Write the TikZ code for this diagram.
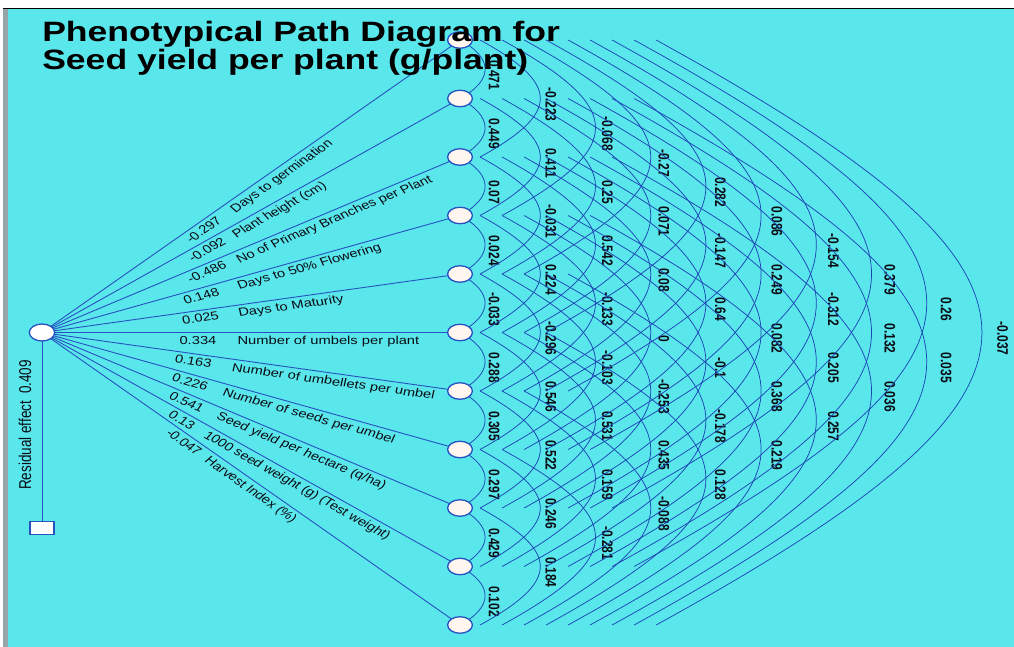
\documentclass[tikz,border=0pt]{standalone}
\usepackage{fontspec}
\setmainfont{Liberation Sans}
\usetikzlibrary{shapes.geometric,calc}
\pgfdeclarelayer{bg}
\pgfdeclarelayer{edges}
\pgfsetlayers{bg,edges,main}
\definecolor{bgcyan}{RGB}{90,231,236}
\definecolor{framegray}{RGB}{150,165,170}
\definecolor{linkblue}{RGB}{38,82,192}
\definecolor{arcblue}{RGB}{28,70,182}
\definecolor{nodefill}{RGB}{255,246,240}
\definecolor{txt}{RGB}{10,12,20}
\newcommand\corr[3]{%
  \pgfmathtruncatemacro\arcK{#2-#1}%
  \pgfmathsetmacro\arcX{\arcK==1 ? 0 : 20+22*(\arcK-2)}%
  \pgfmathsetmacro\arcA{(25+55.2*(\arcK-1)-\arcX)/0.75}%
  \pgfmathsetmacro\arcB{0.55*\arcA}%
  \pgfmathsetmacro\arcP{0.5+4/(58.5*\arcK-\arcB)}%
  \pgfmathsetmacro\arcS{(4+1.2*(\arcK-1))/1.27}%
  \draw[arcline] ($(n#1.center)+(\arcX,0)$) .. controls +(\arcA,\arcB) and +(\arcA,-\arcB) .. ($(n#2.center)+(\arcX,0)$)
    node[pos=\arcP, rotate=-90, anchor=south, outer ysep=\arcS pt, alab] {#3};%
}
\begin{document}
\begin{tikzpicture}[x={(0.787402pt,0pt)}, y={(0pt,-1pt)}, xscale=1.27,
  every node/.append style={transform shape},
  link/.style={draw=linkblue, line width=0.9pt},
  arcline/.style={draw=arcblue, line width=0.75pt},
  llab/.style={font=\fontsize{11.6}{13}\selectfont, text=txt, inner sep=0.5pt, outer sep=3pt},
  alab/.style={font=\bfseries\fontsize{12}{14}\selectfont, text=txt, inner sep=0.5pt},
  cnode/.style={ellipse, draw=linkblue, line width=1.3pt, fill=white, minimum width=20pt, minimum height=17pt, inner sep=0pt},
  rnode/.style={ellipse, draw=linkblue, line width=1.3pt, fill=nodefill, minimum width=19.5pt, minimum height=16.5pt, inner sep=0pt},
  rbox/.style={rectangle, draw=linkblue, line width=1.2pt, fill=white, minimum width=19pt, minimum height=13pt, inner sep=0pt}]
\useasboundingbox (0,0) rectangle (1014,647);
\begin{pgfonlayer}{bg}
  \fill[white] (0,0) rectangle (1014,647);
  \fill[bgcyan] (8,9) rectangle (1014,647);
  \fill[framegray] (3,9) rectangle (8,647);
  \draw[black, line width=1pt] (3,9) -- (1014,9);
\end{pgfonlayer}

\node[cnode] (c) at (42,332.5) {};
\node[rbox] (r) at (42,528) {};
\foreach \i in {1,...,11} \node[rnode] (n\i) at (460,{40+58.5*(\i-1)}) {};

\node[anchor=north west, align=left, inner sep=0pt, font=\bfseries\fontsize{28}{28.5}\selectfont, text=black] (title) at (42,21)
  {Phenotypical Path Diagram for\\Seed yield per plant (g/plant)};

\begin{pgfonlayer}{edges}
\draw[link] (c.center) -- (r.center) node[pos=0.473, rotate=90, anchor=south, inner sep=0.5pt, outer ysep=8pt, font=\fontsize{13.5}{15}\selectfont, text=txt] {Residual effect\hspace{0.5em}0.409};
\foreach \i/\tv/\tn/\ang/\val/\nm in {
1/0.371/0.431/41.63/{-0.297}/{Days to germination},
2/0.381/0.436/35.41/{-0.092}/{Plant height (cm)},
3/0.383/0.446/28.07/{-0.486}/{No of Primary Branches per Plant},
4/0.373/0.450/19.57/{0.148}/{Days to 50\% Flowering},
5/0.375/0.455/10.08/{0.025}/{Days to Maturity},
6/0.373/0.457/0/{0.334}/{Number of umbels per plant},
7/0.366/0.449/-10.08/{0.163}/{Number of umbellets per umbel},
8/0.362/0.432/-19.57/{0.226}/{Number of seeds per umbel},
9/0.357/0.423/-28.07/{0.541}/{Seed yield per hectare (q/ha)},
10/0.348/0.397/-35.41/{0.13}/{1000 seed weight (g) (Test weight)},
11/0.355/0.403/-41.63/{-0.047}/{Harvest Index (\%)}}
{\draw[link] (c.center) -- (n\i.center) node[pos=\tv, rotate=\ang, anchor=north, llab] {\val} node[pos=\tn, rotate=\ang, anchor=north west, llab] {\nm};}

\corr{1}{2}{0.471}\corr{2}{3}{0.449}\corr{3}{4}{0.07}\corr{4}{5}{0.024}\corr{5}{6}{-0.033}
\corr{6}{7}{0.288}\corr{7}{8}{0.305}\corr{8}{9}{0.297}\corr{9}{10}{0.429}\corr{10}{11}{0.102}
\corr{1}{3}{-0.223}\corr{2}{4}{0.411}\corr{3}{5}{-0.031}\corr{4}{6}{0.224}\corr{5}{7}{-0.296}
\corr{6}{8}{0.546}\corr{7}{9}{0.522}\corr{8}{10}{0.246}\corr{9}{11}{0.184}
\corr{1}{4}{-0.068}\corr{2}{5}{0.25}\corr{3}{6}{0.542}\corr{4}{7}{-0.133}\corr{5}{8}{-0.103}
\corr{6}{9}{0.531}\corr{7}{10}{0.159}\corr{8}{11}{-0.281}
\corr{1}{5}{-0.27}\corr{2}{6}{0.071}\corr{3}{7}{0.08}\corr{4}{8}{0}\corr{5}{9}{-0.253}
\corr{6}{10}{0.435}\corr{7}{11}{-0.088}
\corr{1}{6}{0.282}\corr{2}{7}{-0.147}\corr{3}{8}{0.64}\corr{4}{9}{-0.1}\corr{5}{10}{-0.178}\corr{6}{11}{0.128}
\corr{1}{7}{0.086}\corr{2}{8}{0.249}\corr{3}{9}{0.082}\corr{4}{10}{0.368}\corr{5}{11}{0.219}
\corr{1}{8}{-0.154}\corr{2}{9}{-0.312}\corr{3}{10}{0.205}\corr{4}{11}{0.257}
\corr{1}{9}{0.379}\corr{2}{10}{0.132}\corr{3}{11}{0.036}
\corr{1}{10}{0.26}\corr{2}{11}{0.035}
\corr{1}{11}{-0.037}
\end{pgfonlayer}
\end{tikzpicture}
\end{document}
